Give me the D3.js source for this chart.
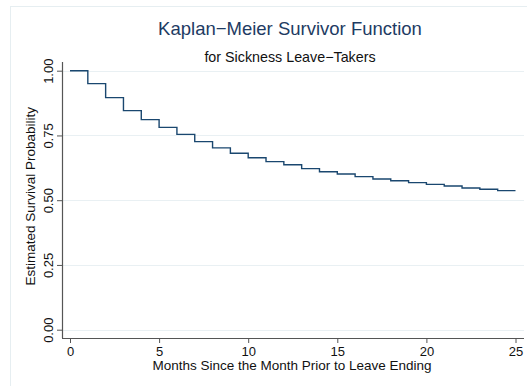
<!DOCTYPE html>
<html>
<head>
<meta charset="utf-8">
<script src="https://cdn.jsdelivr.net/npm/d3@7"></script>
<style>
  html, body { margin: 0; padding: 0; background: #ffffff; }
  svg { display: block; font-family: "Liberation Sans", Arial, Helvetica, sans-serif; }
</style>
</head>
<body>
<svg id="chart" width="527" height="386"></svg>
<script>
// Kaplan–Meier survivor estimates, one value per month interval
const months = d3.range(0, 26);
const survival = [1.000, 0.950, 0.896, 0.846, 0.811, 0.781, 0.754, 0.726, 0.702, 0.681,
                  0.664, 0.649, 0.637, 0.622, 0.610, 0.601, 0.591, 0.582, 0.575, 0.568,
                  0.561, 0.555, 0.547, 0.542, 0.537, 0.537];
const xTicks = [0, 5, 10, 15, 20, 25];
const yTicks = [0, 0.25, 0.5, 0.75, 1];

const titleText = "Kaplan\u2212Meier Survivor Function";
const subtitleText = "for Sickness Leave\u2212Takers";
const xLabel = "Months Since the Month Prior to Leave Ending";
const yLabel = "Estimated Survival Probability";

const svg = d3.select("#chart");
const navy = "#1a476f";
const gridColor = "#e9f0f3";
const axisColor = "#555555";

// outer graph region frame
svg.append("rect")
  .attr("x", 10.5).attr("y", 6.5)
  .attr("width", 540).attr("height", 400)
  .attr("fill", "#ffffff")
  .attr("stroke", "#e6eef1").attr("stroke-width", 1);

const x = d3.scaleLinear().domain([0, 25]).range([70, 515.5]);
const y = d3.scaleLinear().domain([0, 1]).range([329.7, 70.7]);
const plotLeft = 62, plotRight = 524, plotBottom = 338, plotTop = 62;

// horizontal gridlines
svg.append("g")
  .selectAll("line")
  .data(yTicks)
  .join("line")
  .attr("x1", plotLeft).attr("x2", plotRight)
  .attr("y1", d => Math.round(y(d)) + 0.5).attr("y2", d => Math.round(y(d)) + 0.5)
  .attr("stroke", gridColor).attr("stroke-width", 1);

// y axis
const yAxis = d3.axisLeft(y).tickValues(yTicks).tickFormat(d3.format(".2f")).tickSize(5).tickSizeOuter(0);
const gy = svg.append("g").attr("transform", `translate(${plotLeft},0)`).call(yAxis);
gy.select(".domain").attr("d", `M0.5,${plotTop}V${plotBottom}`).attr("stroke", axisColor).attr("stroke-width", 1.2);
gy.selectAll(".tick line").attr("stroke", axisColor);
gy.selectAll(".tick text")
  .attr("transform", "rotate(-90)")
  .attr("x", 0).attr("y", -9)
  .attr("dy", 0)
  .attr("text-anchor", "middle")
  .attr("font-size", 13)
  .attr("fill", "#111");

// x axis
const xAxis = d3.axisBottom(x).tickValues(xTicks).tickFormat(d3.format("d")).tickSize(5).tickSizeOuter(0);
const gx = svg.append("g").attr("transform", `translate(0,${plotBottom})`).call(xAxis);
gx.select(".domain").attr("d", `M${plotLeft},0.5H${plotRight}`).attr("stroke", axisColor).attr("stroke-width", 1.2);
gx.selectAll(".tick line").attr("stroke", axisColor);
gx.selectAll(".tick text")
  .attr("y", 9).attr("dy", "0.71em")
  .attr("font-size", 13)
  .attr("fill", "#111");

// survivor step function
const line = d3.line()
  .x((d, i) => x(months[i]))
  .y(d => y(d))
  .curve(d3.curveStepAfter);
svg.append("path")
  .datum(survival)
  .attr("d", line)
  .attr("fill", "none")
  .attr("stroke", navy)
  .attr("stroke-width", 1.4);

// titles
svg.append("text")
  .attr("x", 290).attr("y", 35)
  .attr("text-anchor", "middle")
  .attr("font-size", 18.5)
  .attr("fill", "#1e3b63")
  .text(titleText);
svg.append("text")
  .attr("x", 290).attr("y", 62)
  .attr("text-anchor", "middle")
  .attr("font-size", 14.3)
  .attr("fill", "#111")
  .text(subtitleText);

// axis titles
svg.append("text")
  .attr("x", 292).attr("y", 370)
  .attr("text-anchor", "middle")
  .attr("font-size", 13.5)
  .attr("fill", "#111")
  .text(xLabel);
svg.append("text")
  .attr("transform", `translate(35,${(y(0) + y(1)) / 2 - 4}) rotate(-90)`)
  .attr("text-anchor", "middle")
  .attr("font-size", 13.5)
  .attr("fill", "#111")
  .text(yLabel);
</script>
</body>
</html>
